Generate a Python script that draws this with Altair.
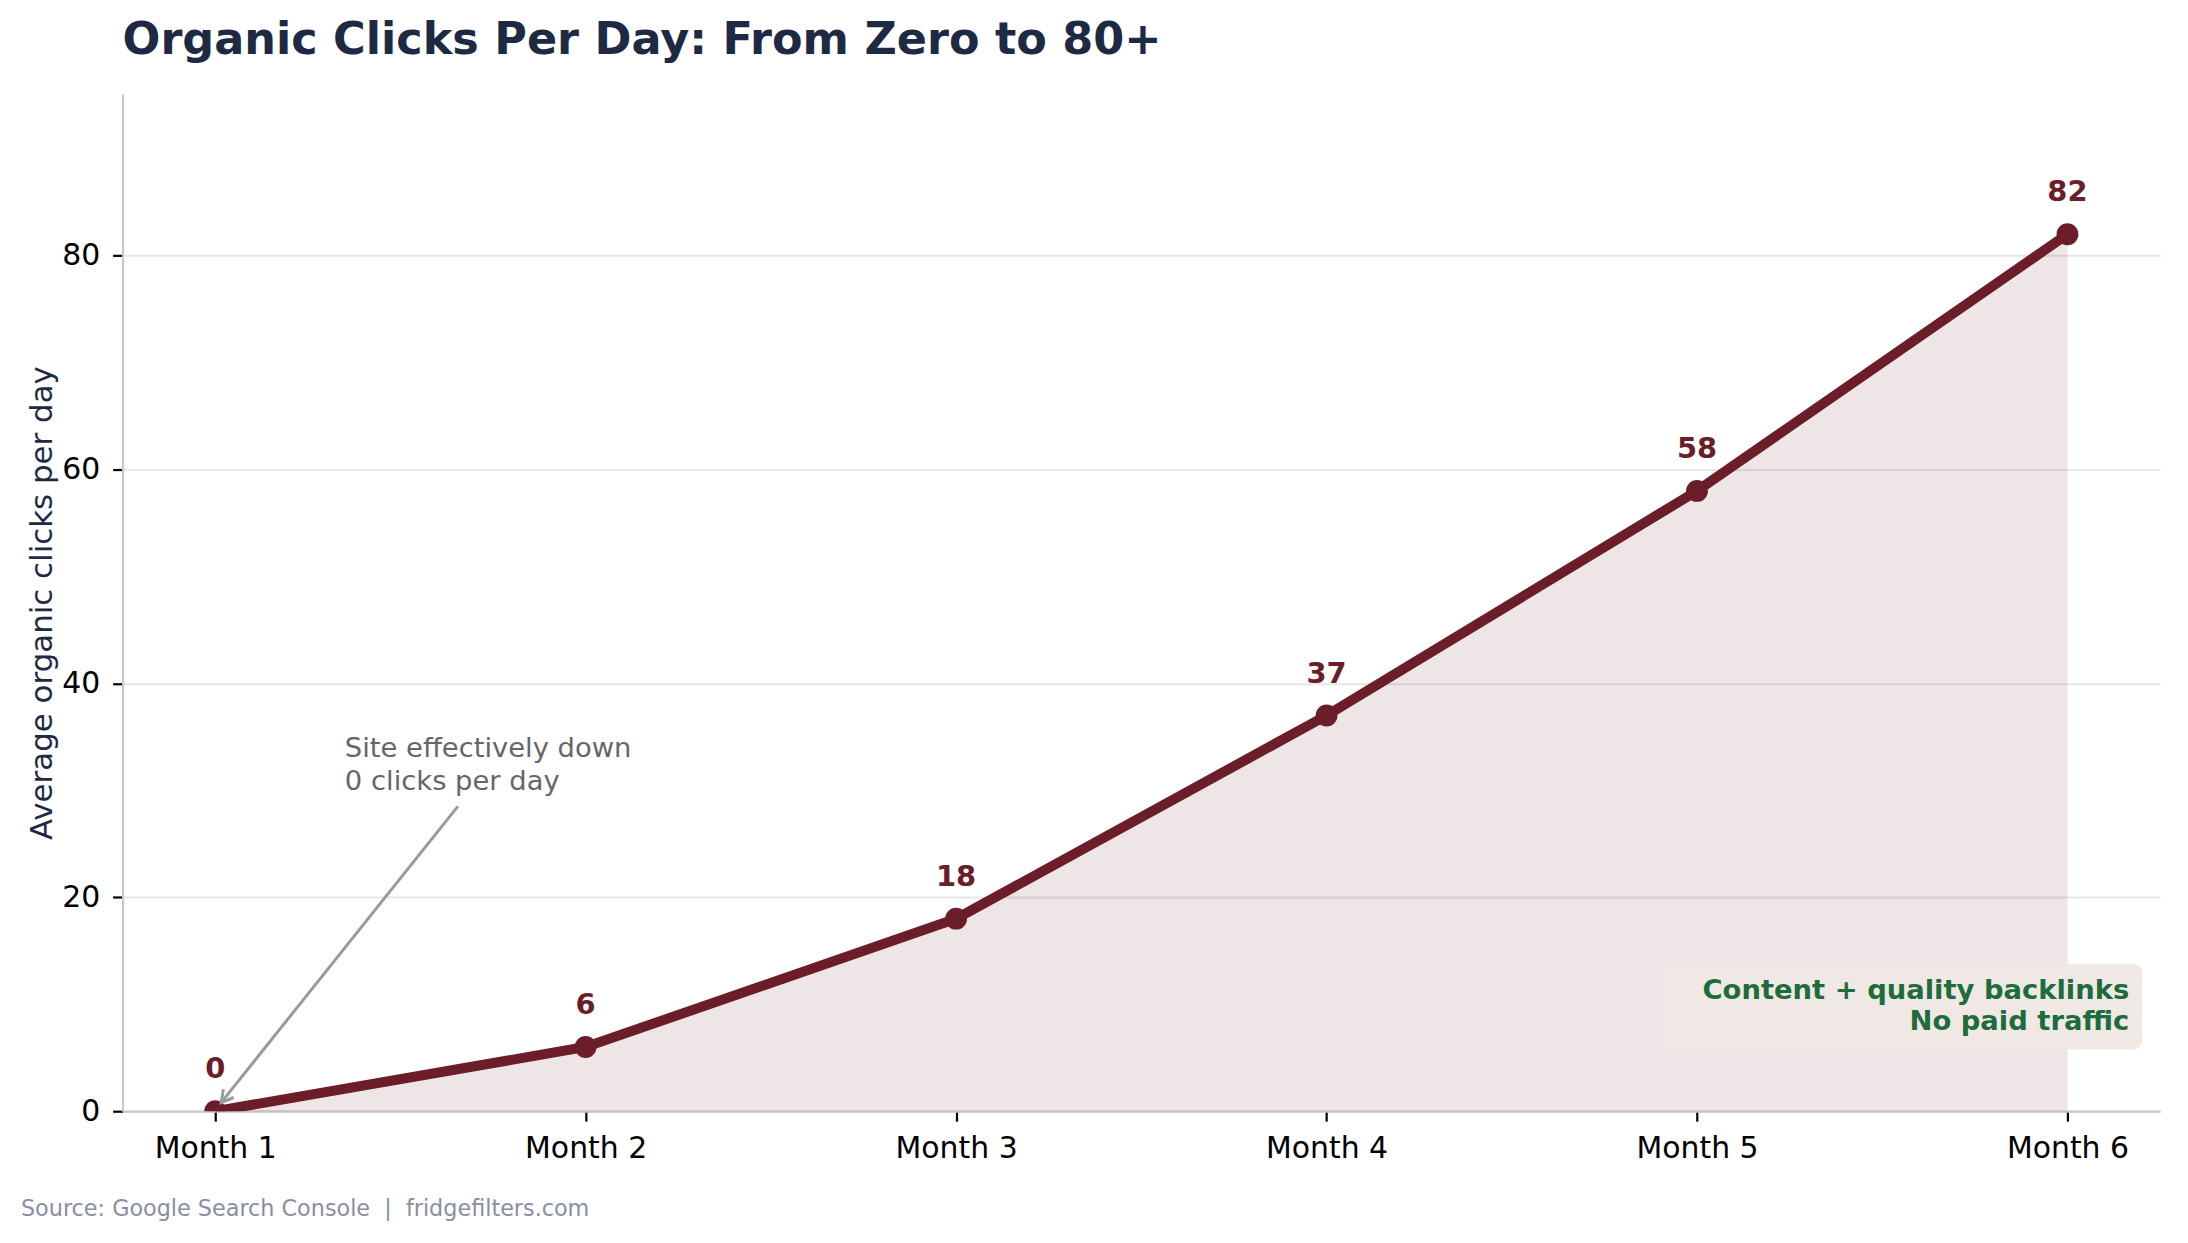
import altair as alt
import pandas as pd

# ---- data ----
months = ["Month 1", "Month 2", "Month 3", "Month 4", "Month 5", "Month 6"]
clicks = [0, 6, 18, 37, 58, 82]

title_text = "Organic Clicks Per Day: From Zero to 80+"
y_title = "Average organic clicks per day"
source_text = "Source: Google Search Console\u00a0\u00a0|\u00a0\u00a0fridgefilters.com"
note_lines = ["Content + quality backlinks", "No paid traffic"]
ann_lines = ["Site effectively down", "0 clicks per day"]
ann_text_pos = [0.35, 30]      # annotation text anchor (x index, y value)
ann_arrow_from = [0.655, 28.5]  # arrow tail
ann_arrow_to = [0.016, 0.8]     # arrow tip

WINE = "#6b1d2a"
NAVY = "#1e2a44"
FONT = "DejaVu Sans"

W, H = 2045, 1021
YMAX = max(clicks) * 1.16

df = pd.DataFrame({"idx": list(range(len(months))), "month": months, "clicks": clicks})

xs = alt.Scale(domain=[-0.25, len(months) - 0.75], nice=False, zero=False)
ys = alt.Scale(domain=[0, YMAX], nice=False)

label_expr = "[" + ",".join("'" + m + "'" for m in months) + "][datum.value]"

x_enc = alt.X("idx:Q", scale=xs, axis=alt.Axis(
    values=list(range(len(months))), labelExpr=label_expr, title=None, grid=False,
    labelFontSize=30, labelFont=FONT, labelColor="black", labelPadding=12,
    tickColor="black", tickSize=10, tickWidth=2.2,
    domainColor="#c8c8c8", domainWidth=2.2, labelFlush=False))
y_enc = alt.Y("clicks:Q", scale=ys, axis=alt.Axis(
    values=[0, 20, 40, 60, 80], title=y_title, titleFont=FONT, titleFontSize=31,
    titleFontWeight="normal", titleColor=NAVY, titlePadding=3,
    labelFontSize=30, labelFont=FONT, labelColor="black", labelPadding=13,
    tickColor="black", tickSize=10, tickWidth=2.2,
    domainColor="#c8c8c8", domainWidth=2.2,
    grid=True, gridColor="#e6e6e6", gridWidth=2))

base = alt.Chart(df)

area = base.mark_area(color=WINE, opacity=0.11, stroke=WINE, strokeOpacity=0.12,
                      strokeWidth=2).encode(x=x_enc, y=y_enc)
line = base.mark_line(color=WINE, strokeWidth=10, clip=True).encode(x="idx:Q", y="clicks:Q")
pts = base.mark_circle(color=WINE, opacity=1, size=480, clip=True).encode(x="idx:Q", y="clicks:Q")
vals = base.mark_text(color=WINE, font=FONT, fontSize=29, fontWeight="bold",
                      baseline="alphabetic", dy=-33).encode(
    x="idx:Q", y="clicks:Q", text="clicks:Q")

# annotation arrow
arr_df = pd.DataFrame({"x": [ann_arrow_from[0]], "y": [ann_arrow_from[1]],
                       "x2": [ann_arrow_to[0]], "y2": [ann_arrow_to[1]]})
arrow = alt.Chart(arr_df).mark_rule(color="#9a9a9a", strokeWidth=3).encode(
    x="x:Q", y="y:Q", x2="x2:Q", y2="y2:Q")
head = alt.Chart(arr_df).mark_point(
    shape="M -0.5 0.9 L 0 0 L 0.5 0.9", filled=False, stroke="#9a9a9a",
    strokeWidth=3, size=700, angle=218.7, opacity=1).encode(x="x2:Q", y="y2:Q")

ann_df = pd.DataFrame({"x": [ann_text_pos[0]], "y": [ann_text_pos[1]], "t": [ann_lines]})
ann = alt.Chart(ann_df).mark_text(color="#666666", font=FONT, fontSize=27.5,
                                  align="left", baseline="alphabetic", lineHeight=33,
                                  dy=-33).encode(x="x:Q", y="y:Q", text="t")

# note box in axes corner
box = alt.Chart(pd.DataFrame({"a": [0]})).mark_rect(
    color="#efe8e4", cornerRadius=9, opacity=1).encode(
    x=alt.value(1547), x2=alt.value(2027), y=alt.value(873), y2=alt.value(959))
note = alt.Chart(pd.DataFrame({"t": [note_lines]})).mark_text(
    color="#1e6b3c", font=FONT, fontSize=27.5, fontWeight="bold", align="right",
    baseline="alphabetic", lineHeight=32).encode(
    x=alt.value(2014), y=alt.value(908), text="t")

src = alt.Chart(pd.DataFrame({"t": [source_text]})).mark_text(
    color="#8a8fa0", font=FONT, fontSize=22.4, align="left", baseline="alphabetic").encode(
    x=alt.value(-102), y=alt.value(1126), text="t")

chart = alt.layer(area, line, pts, vals, arrow, head, ann, box, note, src).properties(
    width=W, height=H,
    background="white",
    title=alt.TitleParams(title_text, anchor="start", frame="group", font=FONT, fontSize=44.7,
                          fontWeight="bold", color=NAVY, baseline="alphabetic",
                          offset=28, dy=33),
    autosize=alt.AutoSizeParams(type="none"),
    padding={"left": 115, "top": 84, "right": 20, "bottom": 120},
).configure_view(strokeWidth=0, stroke="transparent")

chart.save("out.html", embed_options={"renderer": "svg", "actions": False})
